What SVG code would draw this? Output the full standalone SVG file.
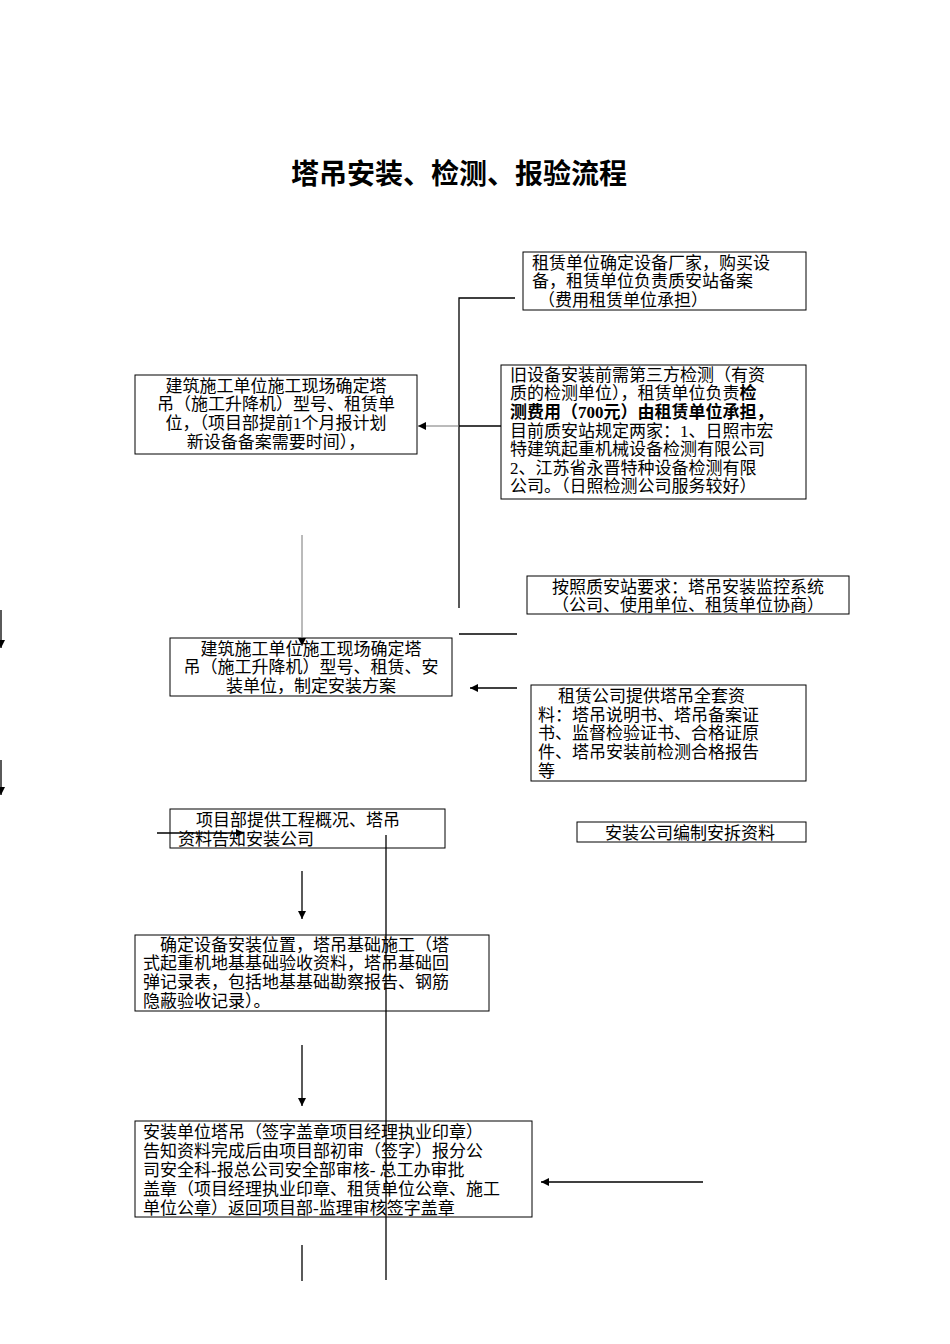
<svg xmlns="http://www.w3.org/2000/svg" width="950" height="1344" viewBox="0 0 950 1344">
<style>
text{font-family:"Liberation Serif","Noto Sans CJK SC",serif;font-size:17px;fill:#000}
.t{font-size:28px;font-weight:bold}
.b{fill:#fff;stroke:#000;stroke-width:1}
.l{stroke:#000;stroke-width:1.3;fill:none}
.g{stroke:#777;stroke-width:1;fill:none}
</style>
<defs>
<marker id="a" viewBox="0 0 10 10" refX="10" refY="5" markerWidth="8" markerHeight="8" orient="auto" markerUnits="userSpaceOnUse"><path d="M0,0L10,5L0,10z" fill="#000"/></marker>
</defs>
<rect width="950" height="1344" fill="#fff"/>
<text class="t" x="459" y="184" text-anchor="middle">塔吊安装、检测、报验流程</text>
<g id="nA"><rect class="b" x="523" y="252" width="283" height="58"/>
<text x="532" y="269">租赁单位确定设备厂家，购买设</text><text x="532" y="287">备，租赁单位负责质安站备案</text><text x="538" y="306">（费用租赁单位承担）</text></g>
<g id="nB"><rect class="b" x="501" y="365" width="305" height="134"/>
<text x="510" y="381">旧设备安装前需第三方检测（有资</text><text x="510" y="399">质的检测单位），租赁单位负责<tspan font-weight="bold">检</tspan></text><text x="510" y="418" font-weight="bold">测费用（700元）由租赁单位承担，</text><text x="510" y="437">目前质安站规定两家：1、日照市宏</text><text x="510" y="455">特建筑起重机械设备检测有限公司</text><text x="510" y="474">2、江苏省永晋特种设备检测有限</text><text x="510" y="492">公司。（日照检测公司服务较好）</text></g>
<g id="nC"><rect class="b" x="135" y="375" width="282" height="79"/>
<text x="276" y="392" text-anchor="middle">建筑施工单位施工现场确定塔</text><text x="276" y="410" text-anchor="middle">吊（施工升降机）型号、租赁单</text><text x="276" y="429" text-anchor="middle">位，（项目部提前1个月报计划</text><text x="276" y="448" text-anchor="middle">新设备备案需要时间），</text></g>
<g id="nD"><rect class="b" x="527" y="576" width="322" height="38"/>
<text x="688" y="593" text-anchor="middle">按照质安站要求：塔吊安装监控系统</text><text x="688" y="611" text-anchor="middle">（公司、使用单位、租赁单位协商）</text></g>
<g id="nE"><rect class="b" x="170" y="638" width="282" height="58"/>
<text x="311" y="655" text-anchor="middle">建筑施工单位施工现场确定塔</text><text x="311" y="673" text-anchor="middle">吊（施工升降机）型号、租赁、安</text><text x="311" y="692" text-anchor="middle">装单位，制定安装方案</text></g>
<g id="nF"><rect class="b" x="531" y="685" width="275" height="96"/>
<text x="558" y="702">租赁公司提供塔吊全套资</text><text x="538" y="721">料：塔吊说明书、塔吊备案证</text><text x="538" y="739">书、监督检验证书、合格证原</text><text x="538" y="758">件、塔吊安装前检测合格报告</text><text x="538" y="777">等</text></g>
<g id="nG"><rect class="b" x="170" y="809" width="275" height="39"/>
<text x="196" y="826">项目部提供工程概况、塔吊</text><text x="178" y="845">资料告知安装公司</text></g>
<g id="nH"><rect class="b" x="577" y="822" width="229" height="20"/>
<text x="605" y="839">安装公司编制安拆资料</text></g>
<g id="nI"><rect class="b" x="135" y="935" width="354" height="76"/>
<text x="160" y="951">确定设备安装位置，塔吊基础施工（塔</text><text x="143" y="969">式起重机地基基础验收资料，塔吊基础回</text><text x="143" y="988">弹记录表，包括地基基础勘察报告、钢筋</text><text x="143" y="1007">隐蔽验收记录）。</text></g>
<g id="nJ"><rect class="b" x="135" y="1121" width="397" height="96"/>
<text x="143" y="1138">安装单位塔吊（签字盖章项目经理执业印章）</text><text x="143" y="1157">告知资料完成后由项目部初审（签字）报分公</text><text x="143" y="1176">司安全科-报总公司安全部审核- 总工办审批</text><text x="143" y="1195">盖章（项目经理执业印章、租赁单位公章、施工</text><text x="143" y="1214">单位公章）返回项目部-监理审核签字盖章</text></g>
<g id="connectors">
<path class="l" d="M459,608V298H515"/>
<path class="l" d="M459,426H501"/>
<path class="g" d="M459,426H418" marker-end="url(#a)"/>
<path class="l" d="M459,634H517"/>
<path class="g" d="M302,535V646" marker-end="url(#a)"/>
<path class="l" d="M517,688H470" marker-end="url(#a)"/>
<path class="l" d="M1,610V648" marker-end="url(#a)"/>
<path class="l" d="M1,760V795" marker-end="url(#a)"/>
<path class="l" d="M157,833H244" marker-end="url(#a)"/>
<path class="l" d="M386,835V1280"/>
<path class="l" d="M302,871V919" marker-end="url(#a)"/>
<path class="l" d="M302,1045V1106" marker-end="url(#a)"/>
<path class="l" d="M703,1182H541" marker-end="url(#a)"/>
<path class="l" d="M302,1245V1281"/>
</g>
</svg>
